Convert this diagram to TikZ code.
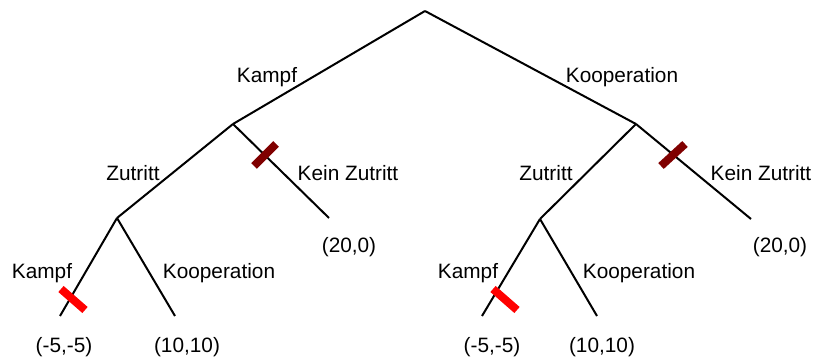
\documentclass[tikz,border=0pt]{standalone}
\usepackage{fontspec}
\setmainfont{Liberation Sans}
\definecolor{darkred}{RGB}{128,0,0}
\begin{document}
\begin{tikzpicture}[x=1pt,y=-1pt,
  edge/.style={line width=2pt, black},
  lbl/.style={font=\fontsize{20.8}{25}\selectfont, inner sep=0pt, anchor=base},
  cutdark/.style={line width=8pt, draw=darkred},
  cutred/.style={line width=8pt, draw=red}]
\useasboundingbox (0,0) rectangle (815,358);
% tree nodes
\coordinate (root) at (425,11);
\coordinate (L1) at (233,124);
\coordinate (R1) at (636,124);
\coordinate (L2) at (117,218);
\coordinate (LK) at (329,218);
\coordinate (R2) at (540,219);
\coordinate (RK) at (751,219);
\coordinate (L2a) at (60,316);
\coordinate (L2b) at (175,316);
\coordinate (R2a) at (482,316);
\coordinate (R2b) at (597,316);
% edges
\draw[edge] (root) -- (L1);
\draw[edge] (root) -- (R1);
\draw[edge] (L1) -- (L2);
\draw[edge] (L1) -- (LK);
\draw[edge] (R1) -- (R2);
\draw[edge] (R1) -- (RK);
\draw[edge] (L2) -- (L2a);
\draw[edge] (L2) -- (L2b);
\draw[edge] (R2) -- (R2a);
\draw[edge] (R2) -- (R2b);
% cut marks
\coordinate (c1a) at (254,166); \coordinate (c1b) at (276,144);
\coordinate (c2a) at (661,166); \coordinate (c2b) at (685,144);
\coordinate (c3a) at (61,289); \coordinate (c3b) at (85,310);
\coordinate (c4a) at (493,289); \coordinate (c4b) at (517,310);
\draw[cutdark] (c1a) -- (c1b);
\draw[cutdark] (c2a) -- (c2b);
\draw[cutred] (c3a) -- (c3b);
\draw[cutred] (c4a) -- (c4b);
% labels
\node[lbl] (t1) at (267,83) {Kampf};
\node[lbl] (t2) at (622,83) {Kooperation};
\node[lbl] (t3) at (133,181) {Zutritt};
\node[lbl] (t4) at (348,181) {Kein Zutritt};
\node[lbl] (t5) at (546,181) {Zutritt};
\node[lbl] (t6) at (761,181) {Kein Zutritt};
\node[lbl] (t7) at (42,279) {Kampf};
\node[lbl] (t8) at (219,279) {Kooperation};
\node[lbl] (t9) at (468,279) {Kampf};
\node[lbl] (t10) at (639,279) {Kooperation};
\node[lbl] (p1) at (349,253) {(20,0)};
\node[lbl] (p2) at (780,253) {(20,0)};
\node[lbl] (p3) at (64,353) {(-5,-5)};
\node[lbl] (p4) at (187,353) {(10,10)};
\node[lbl] (p5) at (492,353) {(-5,-5)};
\node[lbl] (p6) at (602,353) {(10,10)};
\end{tikzpicture}
\end{document}
